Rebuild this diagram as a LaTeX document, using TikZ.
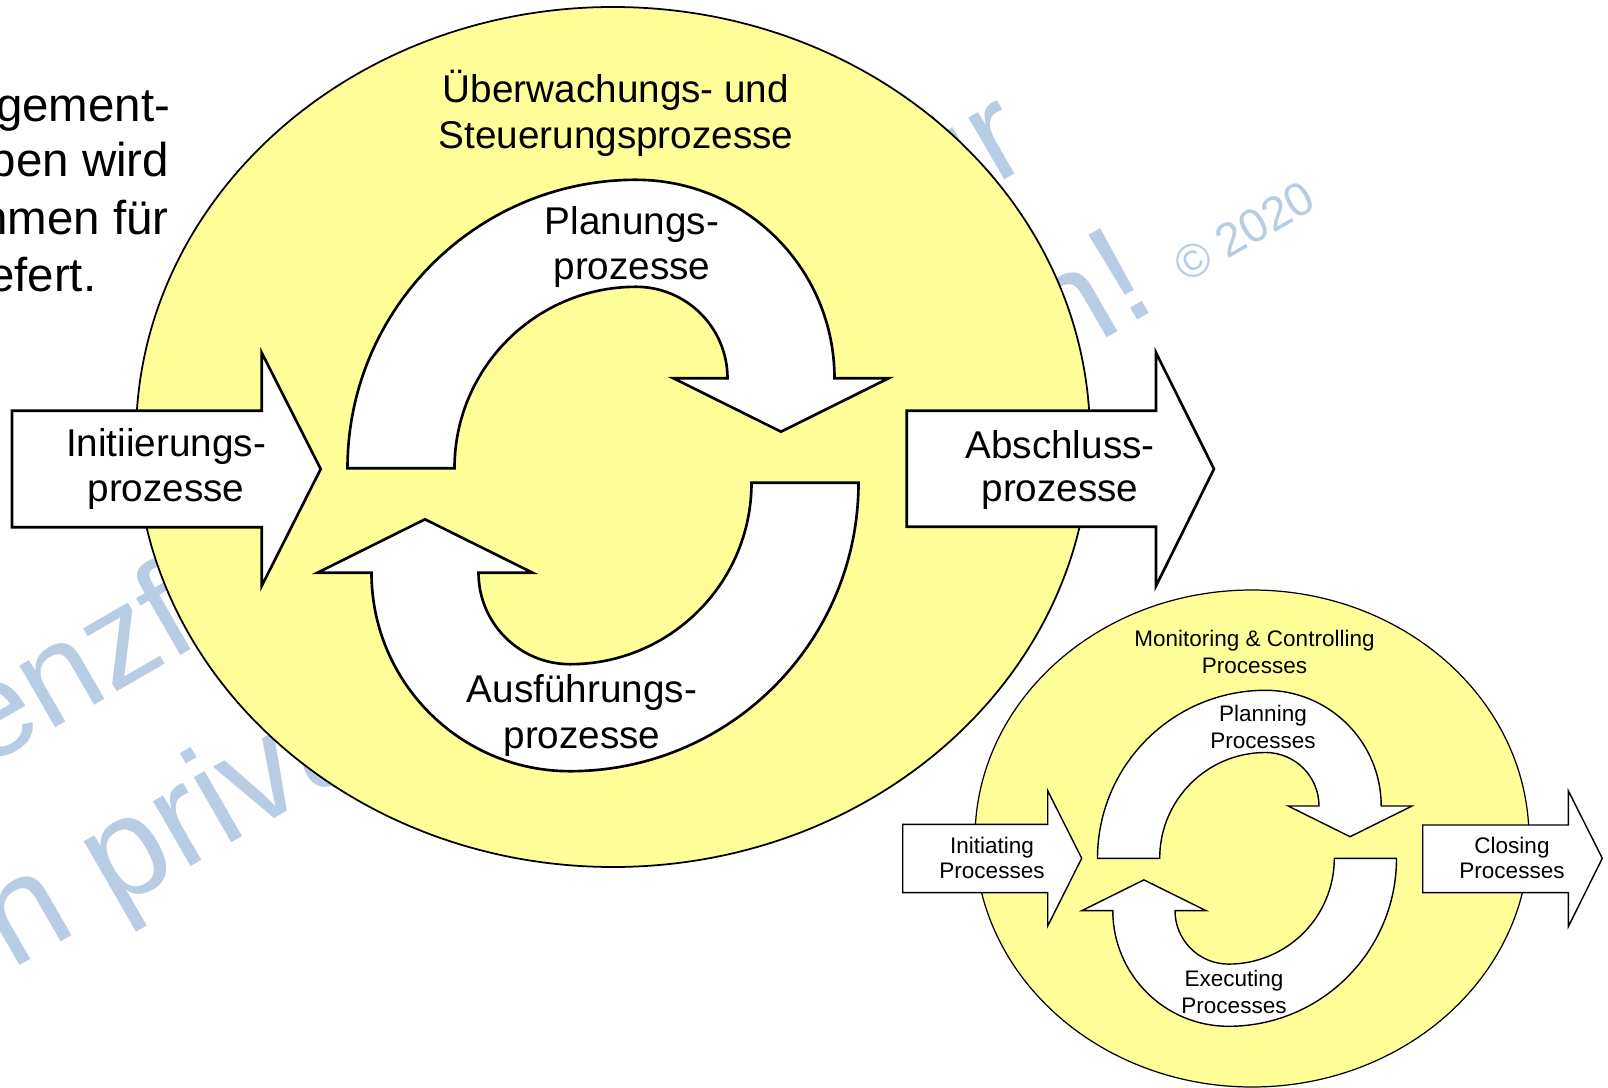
\documentclass[tikz,border=0pt]{standalone}
\usepackage{fontspec}
\setmainfont{Liberation Sans}
\definecolor{paleyellow}{HTML}{FFFF99}
\definecolor{wmblue}{HTML}{B8CCE4}

\begin{document}
\begin{tikzpicture}[x=0.01cm, y=-0.01cm,
  phase/.style={draw=black, fill=paleyellow},
  bigshape/.style={draw=black, fill=white, line width=0.75pt, line join=miter},
  smallshape/.style={draw=black, fill=white, line width=0.4pt, line join=miter},
  biglbl/.style={font=\fontsize{11}{13}\selectfont, anchor=base, inner sep=0pt},
  smalllbl/.style={font=\fontsize{6.4}{7.5}\selectfont, anchor=base, inner sep=0pt},
  wm/.style={text=wmblue, anchor=base west, rotate=30, inner sep=0pt},
  bodytext/.style={font=\fontsize{13.5}{16}\selectfont, anchor=base east, inner sep=0pt}
]
\useasboundingbox (0,0) rectangle (1608,1088);
\clip (0,0) rectangle (1608,1088);

% ---------- watermark (behind everything) ----------
\node[wm, font=\fontsize{38.4}{46}\selectfont] (wmA) at (-167.6,856.5) {Lizenzfreie Nutzung für};
\node[wm, font=\fontsize{40.4}{48}\selectfont] (wmB) at (-126,1049.6) {den privaten Gebrauch!};
\node[wm, font=\fontsize{13.4}{16}\selectfont] (wmC) at (1185.9,284.1) {© 2020};

% ---------- slide text, cut off at the left edge ----------
\node[bodytext] (t1) at (171,121.7) {Projektmanagement-};
\node[bodytext] (t2) at (170,176.7) {beschrieben wird};
\node[bodytext] (t3) at (169.5,235) {Rahmen für};
\node[bodytext] (t4) at (97,291.7) {geliefert.};

% ================= large German diagram =================
\draw[phase, line width=0.5pt] (613,437) ellipse [x radius=477, y radius=430];
\node[biglbl] (mon1) at (616,102.7) {Überwachungs- und};
\node[biglbl] (mon2) at (616,148.3) {Steuerungsprozesse};

% planning arc arrow
\draw[bigshape] (347.5,468.3)
  arc[start angle=180, end angle=270, radius=288.5]
  arc[start angle=270, end angle=360, radius=198.5]
  -- (888.5,378.3) -- (781,431.7) -- (673.5,378.3) -- (727.5,378.3)
  arc[start angle=0, end angle=-90, radius=91.5]
  arc[start angle=270, end angle=180, radius=181.5]
  -- cycle;
% executing arc arrow
\draw[bigshape] (858.5,482.7)
  arc[start angle=0, end angle=90, radius=288.5]
  arc[start angle=90, end angle=180, radius=198.5]
  -- (317.5,572.7) -- (425,519.3) -- (532.5,572.7) -- (478.5,572.7)
  arc[start angle=180, end angle=90, radius=91.5]
  arc[start angle=90, end angle=0, radius=181.5]
  -- cycle;
\node[biglbl] (plan1) at (632,235) {Planungs-};
\node[biglbl] (plan2) at (632,280) {prozesse};
\node[biglbl] (exec1) at (582,702.7) {Ausführungs-};
\node[biglbl] (exec2) at (582,748.3) {prozesse};

% initiating and closing block arrows
\draw[bigshape] (12,410.7) -- (261.7,410.7) -- (261.7,352.7) -- (320.7,469)
  -- (261.7,586) -- (261.7,527.3) -- (12,527.3) -- cycle;
\node[biglbl] (init1) at (166,456.7) {Initiierungs-};
\node[biglbl] (init2) at (166,501.7) {prozesse};
\draw[bigshape] (906.7,410.7) -- (1156,410.7) -- (1156,352.7) -- (1214,469)
  -- (1156,586) -- (1156,526.7) -- (906.7,526.7) -- cycle;
\node[biglbl] (close1) at (1060,458.3) {Abschluss-};
\node[biglbl] (close2) at (1060,501.7) {prozesse};

% ================= small English diagram =================
\draw[phase, line width=0.35pt] (1252,838.5) ellipse [x radius=277, y radius=248.5];
\node[smalllbl] (smon1) at (1254.5,646.7) {Monitoring \& Controlling};
\node[smalllbl] (smon2) at (1254.5,673.3) {Processes};

\draw[smallshape] (1097.5,858.3)
  arc[start angle=180, end angle=270, radius=168]
  arc[start angle=270, end angle=360, radius=115.7]
  -- (1412.1,806) -- (1350.1,836.7) -- (1288.1,806) -- (1319,806)
  arc[start angle=0, end angle=-90, radius=53.5]
  arc[start angle=270, end angle=180, radius=105.8]
  -- cycle;
\draw[smallshape] (1396.5,858.3)
  arc[start angle=0, end angle=90, radius=168]
  arc[start angle=90, end angle=180, radius=115.7]
  -- (1081.9,910.6) -- (1143.9,879.9) -- (1205.9,910.6) -- (1175,910.6)
  arc[start angle=180, end angle=90, radius=53.5]
  arc[start angle=90, end angle=0, radius=105.8]
  -- cycle;
\node[smalllbl] (splan1) at (1263,721.7) {Planning};
\node[smalllbl] (splan2) at (1263,748.3) {Processes};
\node[smalllbl] (sexec1) at (1234,986.7) {Executing};
\node[smalllbl] (sexec2) at (1234,1013.3) {Processes};

\draw[smallshape] (902.7,824.3) -- (1047.7,824.3) -- (1047.7,790.7) -- (1081.7,858.3)
  -- (1047.7,926) -- (1047.7,892.7) -- (902.7,892.7) -- cycle;
\node[smalllbl] (sinit1) at (992,853.3) {Initiating};
\node[smalllbl] (sinit2) at (992,878.3) {Processes};
\draw[smallshape] (1422.7,825) -- (1568.3,825) -- (1568.3,790.7) -- (1602.3,858.3)
  -- (1568.3,926.7) -- (1568.3,892.7) -- (1422.7,892.7) -- cycle;
\node[smalllbl] (sclose1) at (1512,853.3) {Closing};
\node[smalllbl] (sclose2) at (1512,878.3) {Processes};
\end{tikzpicture}
\end{document}
